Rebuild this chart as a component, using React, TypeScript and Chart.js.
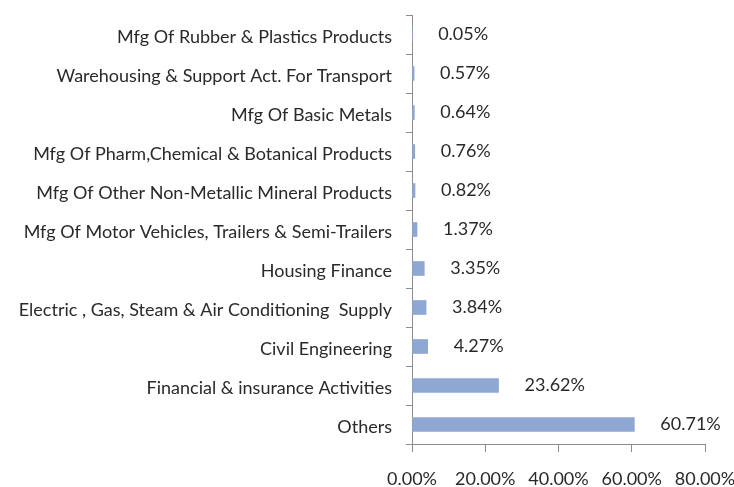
import React, { useEffect, useRef } from "react";
import { Chart, registerables } from "chart.js";

Chart.register(...registerables);

const categories = [
  "Mfg Of Rubber & Plastics Products",
  "Warehousing & Support Act. For Transport",
  "Mfg Of Basic Metals",
  "Mfg Of Pharm,Chemical & Botanical Products",
  "Mfg Of Other Non-Metallic Mineral Products",
  "Mfg Of Motor Vehicles, Trailers & Semi-Trailers",
  "Housing Finance",
  "Electric , Gas, Steam & Air Conditioning  Supply",
  "Civil Engineering",
  "Financial & insurance Activities",
  "Others",
];
const values = [0.05, 0.57, 0.64, 0.76, 0.82, 1.37, 3.35, 3.84, 4.27, 23.62, 60.71];
const xTicks = [0, 20, 40, 60, 80];

const FONT = "Lato, 'Open Sans', sans-serif";
const TEXT = "#2a2a2a";

export default function App() {
  const ref = useRef<HTMLCanvasElement>(null);
  useEffect(() => {
    const labelPlugin = {
      id: "barLabels",
      afterDatasetsDraw(chart: any) {
        const ctx = chart.ctx;
        const meta = chart.getDatasetMeta(0);
        ctx.save();
        ctx.font = `18px ${FONT}`;
        ctx.fillStyle = TEXT;
        ctx.textAlign = "left";
        ctx.textBaseline = "middle";
        meta.data.forEach((bar: any, i: number) => {
          const v = values[i];
          ctx.fillText(v.toFixed(2) + "%", bar.x + 26, bar.y);
        });
        ctx.restore();
      },
    };
    const chart = new Chart(ref.current!, {
      type: "bar",
      data: {
        labels: categories,
        datasets: [
          {
            data: values,
            backgroundColor: "#8FA7D3",
            borderWidth: 0,
            barThickness: 14,
          },
        ],
      },
      options: {
        indexAxis: "y",
        animation: false,
        responsive: false,
        maintainAspectRatio: false,
        layout: { padding: { left: 8, right: 0, top: 15, bottom: 0 } },
        plugins: {
          legend: { display: false },
          tooltip: { enabled: false },
        },
        scales: {
          x: {
            min: 0,
            max: 80,
            afterBuildTicks(scale: any) {
              scale.ticks = xTicks.map((v) => ({ value: v }));
            },
            afterFit(scale: any) {
              scale.height = 43;
              scale.paddingRight = 29;
              scale.paddingLeft = 0;
            },
            grid: {
              drawOnChartArea: false,
              drawTicks: true,
              tickLength: 8,
              color: "#8c8c8c",
            },
            border: { color: "#8c8c8c", width: 1 },
            ticks: {
              padding: 16,
              color: TEXT,
              font: { family: FONT, size: 18 },
              callback: (v: any) => Number(v).toFixed(2) + "%",
            },
          },
          y: {
            afterFit(scale: any) {
              scale.width = 404;
              scale.paddingTop = 0;
              scale.paddingBottom = 0;
            },
            grid: {
              offset: true,
              drawOnChartArea: false,
              drawTicks: true,
              tickLength: 6,
              color: "#8c8c8c",
            },
            border: { color: "#8c8c8c", width: 1 },
            ticks: {
              padding: 14,
              labelOffset: 3,
              color: TEXT,
              autoSkip: false,
              font: { family: FONT, size: 18 },
            },
          },
        },
      },
      plugins: [labelPlugin],
    });
    return () => chart.destroy();
  }, []);
  return (
    <div style={{ position: "fixed", left: 0, top: 0, width: 734, height: 487, background: "#fff" }}>
      <canvas ref={ref} width={734} height={487} style={{ width: 734, height: 487 }} />
    </div>
  );
}
